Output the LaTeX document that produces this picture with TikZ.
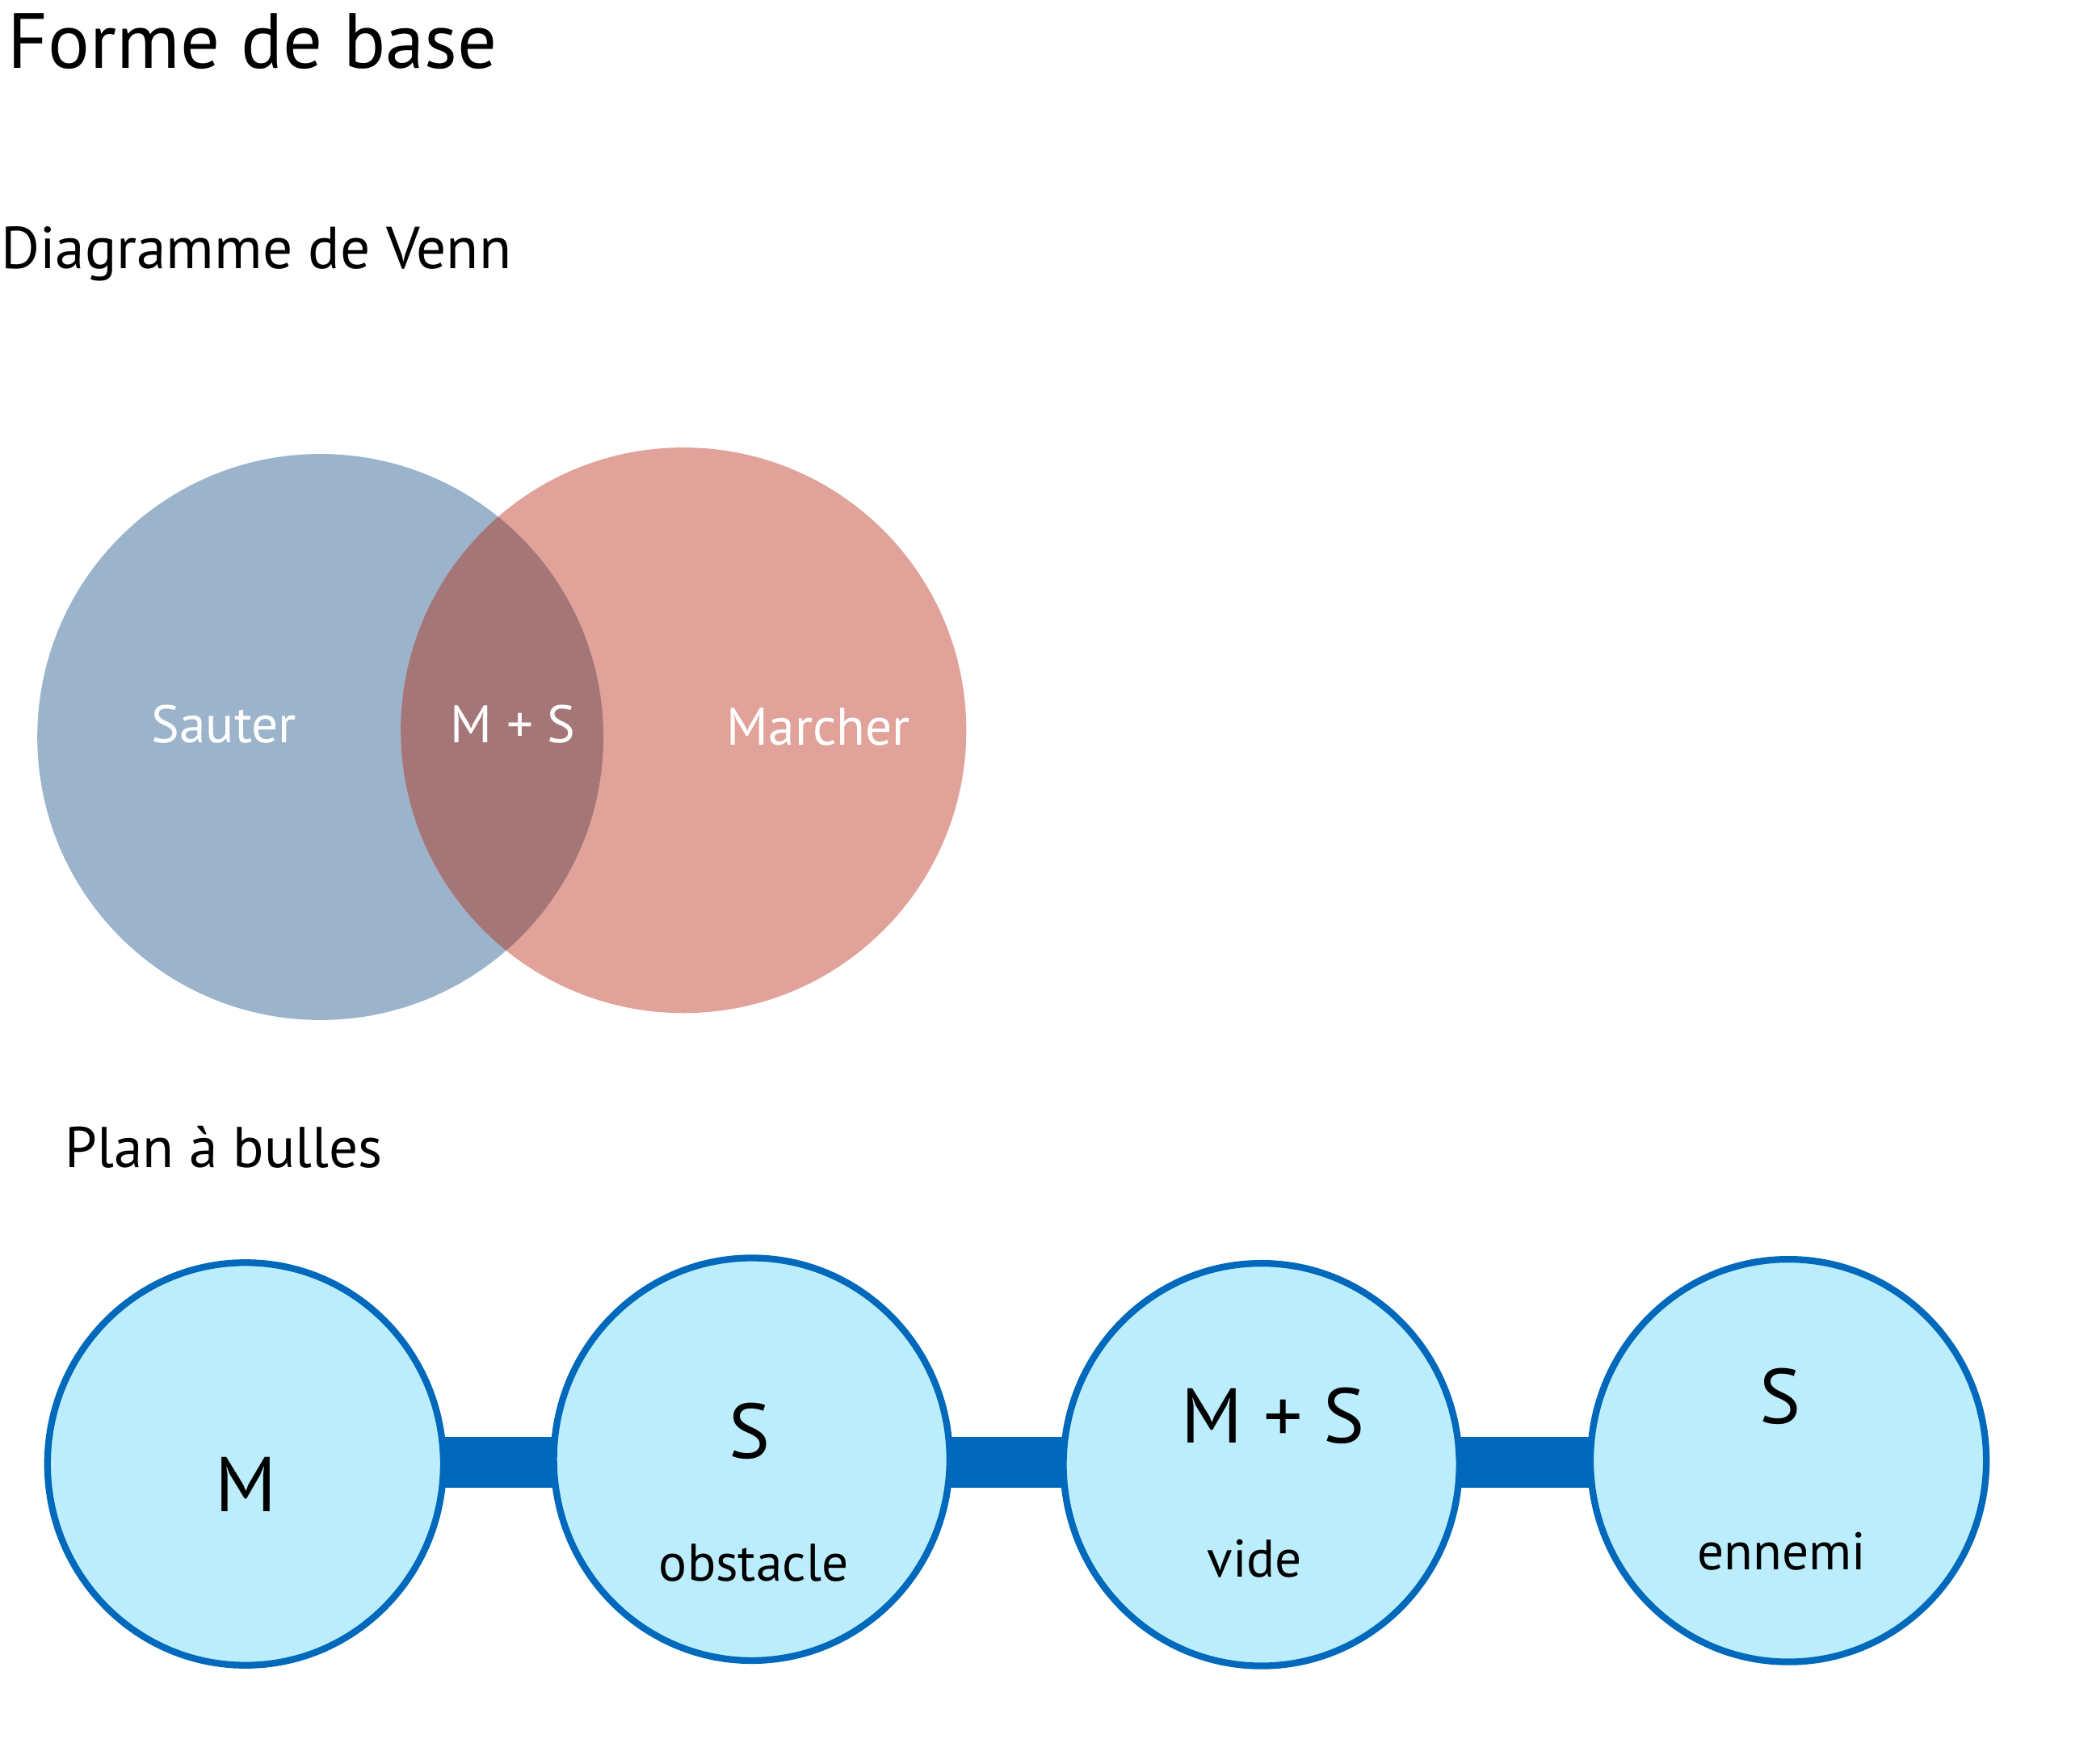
\documentclass[tikz,border=0pt]{standalone}
\usepackage{fontspec}
\setmainfont{PT Sans}
\usetikzlibrary{shapes.geometric}
\definecolor{vblue}{RGB}{155,180,203}
\definecolor{vred}{RGB}{225,162,154}
\definecolor{vmix}{RGB}{165,118,120}
\definecolor{bstroke}{RGB}{0,105,187}
\definecolor{bfill}{RGB}{187,237,253}
\newcommand{\fs}[1]{\fontsize{#1}{#1}\selectfont}
\pgfdeclarelayer{background}
\pgfsetlayers{background,main}
\tikzset{
  title/.style={anchor=base west, inner sep=0pt, font=\fs{58.5}},
  subtitle/.style={anchor=base west, inner sep=0pt, font=\fs{44.3}},
  subtitleb/.style={anchor=base west, inner sep=0pt, font=\fs{43}},
  venntext/.style={anchor=base, inner sep=0pt, text=white, font=\fs{39.5}},
  bubble/.style={ellipse, draw=bstroke, line width=5pt, fill=bfill, minimum width=296pt, minimum height=301pt, inner sep=0pt},
  bigtext/.style={anchor=base, inner sep=0pt, font=\fs{58}},
  smalltext/.style={anchor=base, inner sep=0pt, font=\fs{39.5}},
  link/.style={draw=bstroke, line width=38pt}
}
\begin{document}
\begin{tikzpicture}[x=1pt,y=-1pt]
\path[use as bounding box] (0,0) rectangle (1564,1318.3);
% titles
\node[title] (t1) at (5.5,51.3) {Forme de base};
\node[subtitle] (t2) at (0.5,201) {Diagramme de Venn};
\node[subtitleb] (t3) at (48.5,872.6) {Plan à bulles};
% Venn
\fill[vblue] (239.5,551) circle (211.6);
\fill[vred] (511,546) circle (211.4);
\begin{scope}
  \clip (239.5,551) circle (211.6);
  \fill[vmix] (511,546) circle (211.4);
\end{scope}
\node[venntext] (sauter) at (167.5,555) {Sauter};
\node[venntext] (ms) at (383.5,555) {M + S};
\node[venntext] (marcher) at (612,557) {Marcher};
% bubbles
\node[bubble] (b1) at (183.5,1094.5) {};
\node[bubble] (b2) at (562,1091) {};
\node[bubble] (b3) at (943,1095) {};
\node[bubble] (b4) at (1337,1092) {};
\begin{pgfonlayer}{background}
\path[link] (b1.center |- 0,1093.3) -- (b2.center |- 0,1093.3);
\path[link] (b2.center |- 0,1093.3) -- (b3.center |- 0,1093.3);
\path[link] (b3.center |- 0,1093.3) -- (b4.center |- 0,1093.3);
\end{pgfonlayer}
\node[bigtext] (l1) at (184,1130) {M};
\node[bigtext] (l2) at (560.5,1090) {S};
\node[smalltext] (l2b) at (563.5,1182) {obstacle};
\node[bigtext] (l3) at (951.7,1078.6) {M + S};
\node[smalltext] (l3b) at (938,1179) {vide};
\node[bigtext] (l4) at (1331,1064) {S};
\node[smalltext] (l4b) at (1332,1173.6) {ennemi};
\end{tikzpicture}
\end{document}
